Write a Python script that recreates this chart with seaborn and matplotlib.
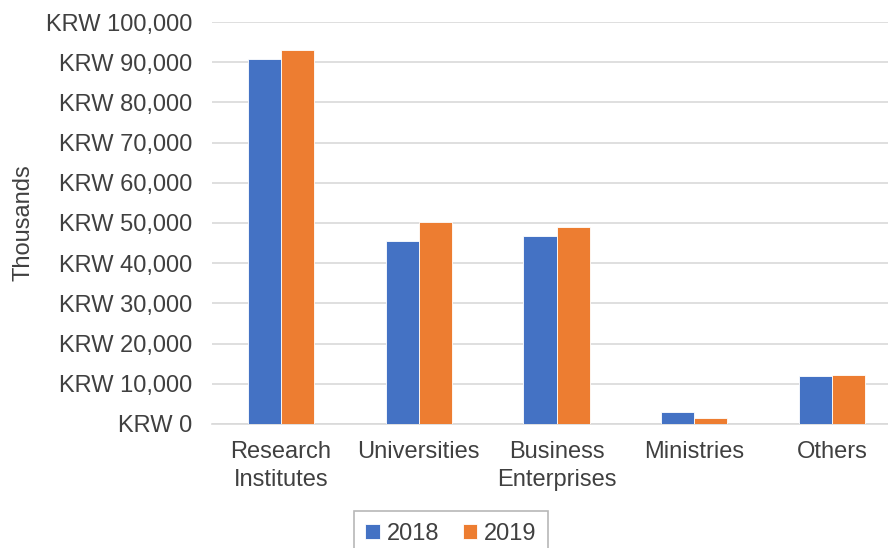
import matplotlib
matplotlib.use("Agg")
import matplotlib.pyplot as plt
from matplotlib.ticker import FuncFormatter
import seaborn as sns
import pandas as pd

categories = ["Research\nInstitutes", "Universities", "Business\nEnterprises", "Ministries", "Others"]
years = ["2018", "2019"]
values_2018 = [90700, 45400, 46800, 3000, 12000]
values_2019 = [93100, 50200, 48900, 1600, 12300]
colors = ["#4472C4", "#ED7D31"]

df = pd.DataFrame({
    "Category": categories * 2,
    "Year": [years[0]] * len(categories) + [years[1]] * len(categories),
    "Value": values_2018 + values_2019,
})

sns.set_theme(style="white")
plt.rcParams["font.family"] = ["Liberation Sans", "DejaVu Sans"]

fig = plt.figure(figsize=(8.88, 5.48), dpi=100)
ax = fig.add_axes([212 / 888, 124 / 548, 689 / 888, 402 / 548])

sns.barplot(data=df, x="Category", y="Value", hue="Year", palette=colors,
            width=0.48, gap=0, ax=ax, edgecolor="white", linewidth=0.6,
            saturation=1, zorder=3)

ax.set_xlim(-0.5, 4.5)
ax.set_ylim(0, 100000)
ax.set_yticks(range(0, 100001, 10000))
ax.yaxis.set_major_formatter(FuncFormatter(lambda v, p: f"KRW {int(v):,}"))
ax.grid(axis="y", color="#D9D9D9", linewidth=1.2, zorder=0)
ax.grid(axis="x", visible=False)
for s in ["top", "right", "left"]:
    ax.spines[s].set_visible(False)
ax.spines["bottom"].set_color("#D9D9D9")
ax.spines["bottom"].set_linewidth(1.2)
ax.tick_params(axis="both", length=0, labelsize=17, colors="#404040")
ax.tick_params(axis="y", pad=14)
ax.tick_params(axis="x", pad=12)
for lab in ax.get_xticklabels():
    lab.set_linespacing(1.37)
ax.set_xlabel("")
ax.set_ylabel("Thousands", fontsize=17, color="#404040")
ax.yaxis.set_label_coords(-177 / 689, 0.5)

ax.legend_.remove()
handles, labels = ax.get_legend_handles_labels()
leg = fig.legend(handles[:2], labels[:2], loc="upper center",
                 bbox_to_anchor=(451 / 888, 1 - 499 / 548), ncol=2,
                 frameon=True, fontsize=17, handlelength=0.6, handleheight=0.6,
                 handletextpad=0.3, columnspacing=1.0, borderpad=0.5,
                 fancybox=False)
leg.get_frame().set_edgecolor("#A6A6A6")
leg.get_frame().set_linewidth(1.2)
for t in leg.get_texts():
    t.set_color("#404040")

fig.savefig("out.png", dpi=100)
